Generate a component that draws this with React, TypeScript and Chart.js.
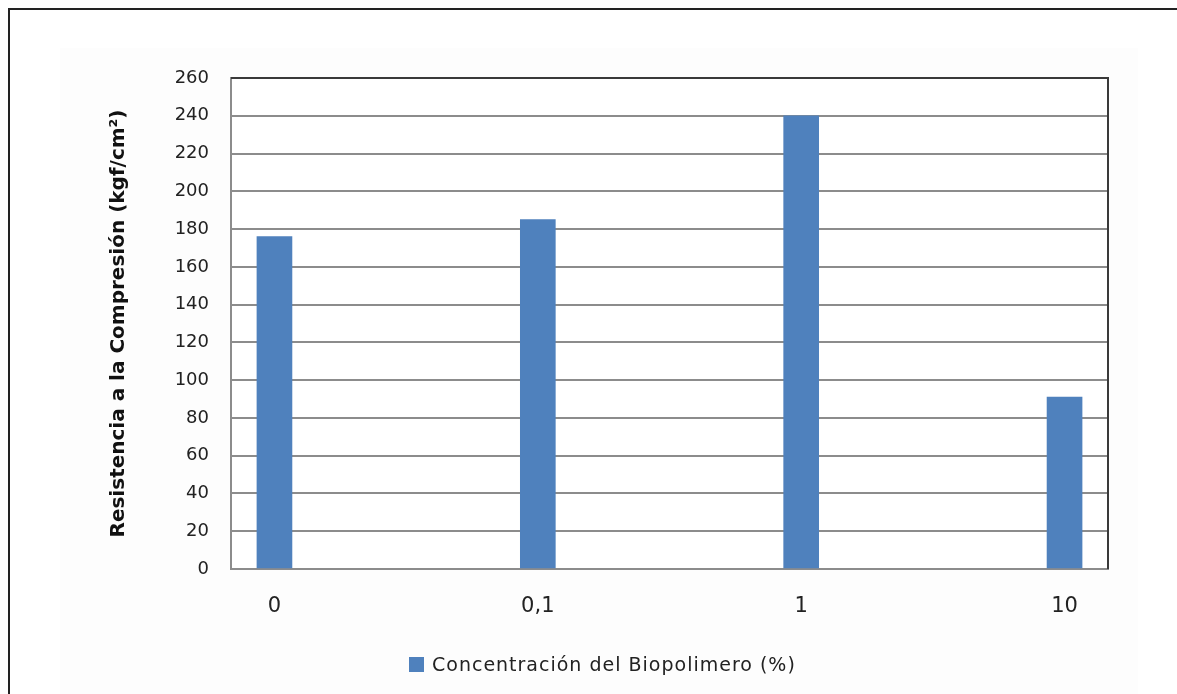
import React, { useEffect, useRef } from "react";
import { Chart, registerables } from "chart.js";

Chart.register(...registerables);

const categories = ["0", "0,1", "1", "10"];
const values = [176, 185, 240, 91];
const seriesName = "Concentración del Biopolimero (%)";
const yTitle = "Resistencia a la Compresión (kgf/cm²)";
const yMin = 0;
const yMax = 260;
const yStep = 20;

const BAR_COLOR = "#4F81BD";
const FONT = "'DejaVu Sans', Verdana, sans-serif";

export default function App() {
  const canvasRef = useRef<HTMLCanvasElement | null>(null);

  useEffect(() => {
    if (!canvasRef.current) return;
    const frameBorder = {
      id: "frameBorder",
      beforeDraw(chart: any) {
        const { ctx, chartArea } = chart;
        ctx.save();
        ctx.fillStyle = "#ffffff";
        ctx.fillRect(
          chartArea.left,
          chartArea.top,
          chartArea.right - chartArea.left,
          chartArea.bottom - chartArea.top
        );
        ctx.restore();
      },
      afterDraw(chart: any) {
        const { ctx, chartArea } = chart;
        ctx.save();
        ctx.strokeStyle = "#3a3a3a";
        ctx.lineWidth = 2;
        ctx.beginPath();
        ctx.moveTo(chartArea.left, chartArea.top);
        ctx.lineTo(chartArea.right, chartArea.top);
        ctx.lineTo(chartArea.right, chartArea.bottom);
        ctx.stroke();
        ctx.restore();
      },
    };
    const chart = new Chart(canvasRef.current, {
      type: "bar",
      data: {
        datasets: [
          {
            label: seriesName,
            data: values.map((v, i) => ({ x: i, y: v })),
            backgroundColor: BAR_COLOR,
            borderWidth: 0,
            barThickness: 35,
          },
        ],
      },
      options: {
        responsive: false,
        animation: false,
        devicePixelRatio: 1,
        layout: { padding: { top: 78, right: 69, bottom: 0, left: 0 } },
        plugins: {
          legend: { display: false },
          tooltip: { enabled: false },
        },
        scales: {
          x: {
            type: "linear",
            offset: false,
            min: -0.165,
            max: 3.165,
            afterBuildTicks: (scale: any) => {
              scale.ticks = categories.map((_, i) => ({ value: i }));
            },
            afterFit: (scale: any) => {
              scale.height = 694 - 569;
            },
            grid: { display: false, drawTicks: false },
            border: { color: "#8c8c8c", width: 2 },
            ticks: {
              padding: 25,
              color: "#222",
              font: { family: FONT, size: 21 },
              maxRotation: 0,
              autoSkip: false,
              callback: (v: any) => categories[v as number] ?? "",
            },
          },
          y: {
            min: yMin,
            max: yMax,
            afterFit: (scale: any) => {
              scale.width = 231;
            },
            grid: { color: "#8c8c8c", lineWidth: 2, drawTicks: false },
            border: { color: "#8c8c8c", width: 2 },
            ticks: {
              stepSize: yStep,
              padding: 22,
              color: "#222",
              font: { family: FONT, size: 18 },
            },
            title: {
              display: true,
              text: yTitle,
              color: "#111",
              font: { family: FONT, size: 20, weight: "bold" },
              padding: { top: 107, bottom: 0 },
            },
          },
        },
      },
      plugins: [frameBorder],
    } as any);
    return () => chart.destroy();
  }, []);

  return (
    <div
      style={{
        position: "fixed",
        left: 0,
        top: 0,
        width: 1177,
        height: 694,
        background: "#fff",
        overflow: "hidden",
      }}
    >
      <div
        style={{
          position: "absolute",
          left: 60,
          top: 48,
          width: 1078,
          height: 646,
          background: "#fdfdfd",
        }}
      />
      <div
        style={{
          position: "absolute",
          left: 8,
          top: 8,
          width: 1300,
          height: 800,
          borderTop: "2px solid #222",
          borderLeft: "2px solid #222",
        }}
      />
      <canvas
        ref={canvasRef}
        width={1177}
        height={694}
        style={{ position: "absolute", left: 0, top: 0, width: 1177, height: 694 }}
      />
      <div
        style={{
          position: "absolute",
          left: 409,
          top: 653,
          display: "flex",
          alignItems: "center",
          fontFamily: FONT,
          fontSize: 19,
          letterSpacing: 1,
          color: "#222",
          whiteSpace: "nowrap",
        }}
      >
        <span
          style={{
            display: "inline-block",
            width: 15,
            height: 15,
            background: BAR_COLOR,
            marginRight: 8,
          }}
        />
        <span>{seriesName}</span>
      </div>
    </div>
  );
}
